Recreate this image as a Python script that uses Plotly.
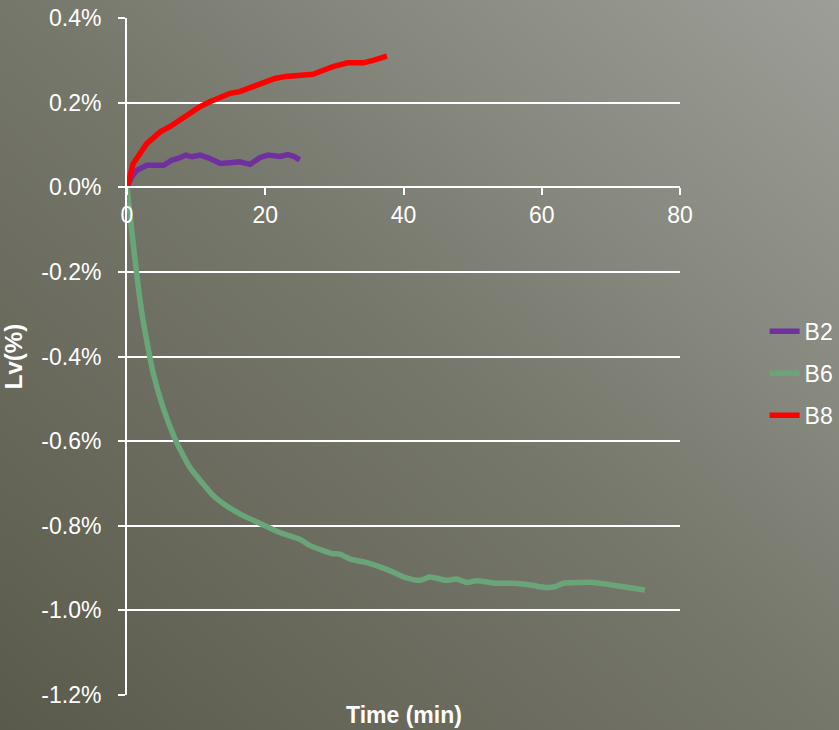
import base64
import plotly.graph_objects as go

# ---- data ----
b2_t = [0, 0.7, 1.4, 2.85, 5.3, 6.5, 7.4, 8.5, 9.4, 10.6, 12.0, 13.5, 14.9, 16.3, 17.8, 19.2, 20.4, 22.1, 23.3, 24.1, 25.0]
b2_v = [0, 0.025, 0.040, 0.052, 0.052, 0.064, 0.068, 0.076, 0.072, 0.076, 0.068, 0.056, 0.058, 0.060, 0.054, 0.070, 0.076, 0.073, 0.077, 0.073, 0.065]

b6_t = [0, 0.68, 1.4, 2.1, 2.85, 3.8, 5.25, 6.9, 8.0, 9.1, 12.5, 14.4, 16.8, 19.2, 22.1, 25, 26.5, 29.8, 30.8, 32.3, 34.7,
        36.6, 38.0, 40.2, 42.4, 43.8, 46.2, 47.7, 49.1, 50.6, 53.5, 55.9, 58.3, 60.7, 61.9, 63.1, 65.5, 67.5, 69.4, 71.8, 74.9]
b6_v = [0, -0.102, -0.204, -0.292, -0.362, -0.440, -0.522, -0.593, -0.630, -0.662, -0.729, -0.753, -0.776, -0.794, -0.816, -0.832,
        -0.847, -0.866, -0.867, -0.879, -0.887, -0.897, -0.906, -0.922, -0.929, -0.921, -0.929, -0.926, -0.934, -0.930,
        -0.936, -0.936, -0.940, -0.946, -0.944, -0.936, -0.934, -0.934, -0.938, -0.944, -0.952]

b8_t = [0, 0.5, 0.9, 2.85, 4.8, 6.2, 7.5, 9.1, 10.5, 12.0, 14.9, 16.3, 17.8, 19.5, 21.4, 23, 25.0, 26.9, 28.5, 29.8, 31.9, 34.2, 35.6, 37.6]
b8_v = [0, 0.030, 0.056, 0.103, 0.131, 0.143, 0.158, 0.175, 0.190, 0.202, 0.222, 0.226, 0.236, 0.245, 0.257, 0.262, 0.263, 0.267, 0.277, 0.285, 0.294, 0.294, 0.300, 0.310]

y_ticks = [-1.2, -1.0, -0.8, -0.6, -0.4, -0.2, 0.0, 0.2, 0.4]
y_tick_text = ["-1.2%", "-1.0%", "-0.8%", "-0.6%", "-0.4%", "-0.2%", "0.0%", "0.2%", "0.4%"]
x_ticks = [0, 20, 40, 60, 80]

# ---- layout geometry ----
W, H = 839, 730
ML, MR, MT, MB = 127, 159, 18, 35
PW, PH = W - ML - MR, H - MT - MB

svg = f'''<svg xmlns="http://www.w3.org/2000/svg" width="{W}" height="{H}" preserveAspectRatio="none">
<defs><linearGradient id="g" x1="0" y1="1" x2="1" y2="0">
<stop offset="0" stop-color="#5a5a4c"/><stop offset="0.5" stop-color="#76776b"/><stop offset="1" stop-color="#9d9e97"/>
</linearGradient></defs><rect width="{W}" height="{H}" fill="url(#g)"/></svg>'''
bg_src = "data:image/svg+xml;base64," + base64.b64encode(svg.encode()).decode()

FONT = "Liberation Sans, Arial, sans-serif"

fig = go.Figure()
fig.add_trace(go.Scatter(x=b2_t, y=b2_v, mode="lines", name="B2", legendgroup="a",
                         line=dict(color="#7030a0", width=5.5)))
fig.add_trace(go.Scatter(x=b6_t, y=b6_v, mode="lines", name="B6", legendgroup="b",
                         line=dict(color="#6aa57a", width=5.5, shape="spline", smoothing=0.6)))
fig.add_trace(go.Scatter(x=b8_t, y=b8_v, mode="lines", name="B8", legendgroup="c",
                         line=dict(color="#ff0000", width=5.5)))

fig.update_layout(
    width=W, height=H,
    margin=dict(l=ML, r=MR, t=MT, b=MB, pad=0, autoexpand=False),
    paper_bgcolor="#76776b",
    plot_bgcolor="rgba(0,0,0,0)",
    font=dict(family=FONT, color="white", size=23),
    images=[dict(source=bg_src, xref="paper", yref="paper",
                 x=-ML / PW, y=1 + MT / PH, sizex=W / PW, sizey=H / PH,
                 xanchor="left", yanchor="top", sizing="stretch", layer="below")],
    xaxis=dict(range=[0, 80], tickvals=x_ticks, showgrid=False, zeroline=False,
               showline=True, linecolor="white", linewidth=2, automargin=False,
               ticks="outside", ticklen=7, tickwidth=2, tickcolor="white",
               anchor="free", position=0.75, tickfont=dict(size=23)),
    yaxis=dict(range=[-1.2, 0.4], tickvals=y_ticks, ticktext=y_tick_text,
               showgrid=True, gridcolor="white", gridwidth=2, zeroline=False,
               showline=True, linecolor="white", linewidth=2, automargin=False,
               ticks="outside", ticklen=7, tickwidth=2, tickcolor="white",
               ticklabelstandoff=12, tickfont=dict(size=23),
               title=dict(text="<b>Lv(%)</b>", font=dict(size=24), standoff=12)),
    legend=dict(x=1.153, y=0.475, xanchor="left", yanchor="middle",
                bgcolor="rgba(0,0,0,0)", font=dict(size=23), tracegroupgap=9),
    showlegend=True,
    annotations=[dict(text="<b>Time (min)</b>", xref="paper", yref="paper",
                      x=0.5, y=0, xanchor="center", yanchor="top", yshift=-5,
                      showarrow=False, font=dict(size=23, color="white"))],
)

fig.write_html("out.html", config={"displayModeBar": False},
               post_script="document.body.style.margin='0';")
